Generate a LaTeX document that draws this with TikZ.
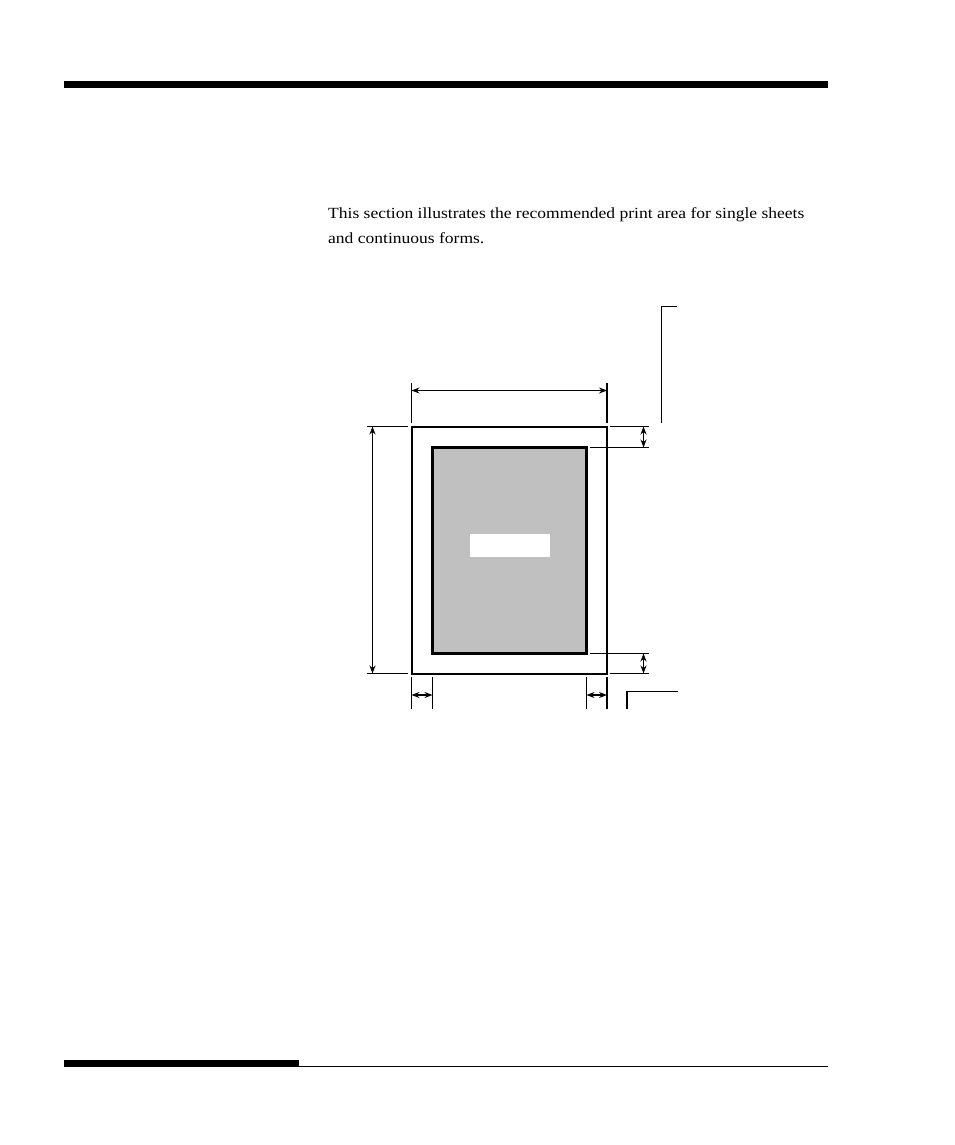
\documentclass[tikz,border=0pt]{standalone}
\usepackage{fontspec}
\setmainfont[FakeStretch=1.13]{Liberation Serif}
\usetikzlibrary{arrows.meta}
\begin{document}
\begin{tikzpicture}[x=1pt,y=-1pt,
  thin line/.style={line width=1.2pt},
  dim/.style={line width=1.2pt,{Stealth[length=8pt,width=6pt]}-{Stealth[length=8pt,width=6pt]}},
  bodytext/.style={anchor=base west,inner sep=0pt,font=\fontsize{15.5}{18}\selectfont}]
\useasboundingbox (0,0) rectangle (954,1145);
% header / footer bars
\fill (64,81) rectangle (828,88);
\fill (64,1060) rectangle (299,1067);
\draw[line width=1.2pt] (299,1066.4) -- (828,1066.4);
% text
\node[bodytext] (t1) at (328,218) {This section illustrates the recommended print area for single sheets};
\node[bodytext] (t2) at (328,243) {and continuous forms.};
% paper and print area
\coordinate (oTL) at (411.5,426.5);
\coordinate (oBR) at (607,673.5);
\coordinate (iTL) at (432.5,447.5);
\coordinate (iBR) at (586.5,653.5);
\draw[line width=2pt] (oTL) rectangle (oBR);
\draw[line width=2.4pt,fill={rgb,255:red,192;green,192;blue,192}] (iTL) rectangle (iBR);
\fill[white] (470,534) rectangle (550,557);
% top width dimension
\coordinate (w1a) at (411.5,383); \coordinate (w1b) at (411.5,423);
\coordinate (w2a) at (607,383); \coordinate (w2b) at (607,423);
\draw[thin line] (w1a) -- (w1b);
\draw[thin line] (w2a) -- (w2b);
\coordinate (wl) at (411.5,390.5); \coordinate (wr) at (607,390.5);
\draw[dim] (wl) -- (wr);
% left height dimension
\coordinate (h1a) at (367,426.5); \coordinate (h1b) at (408,426.5);
\coordinate (h2a) at (367,673.5); \coordinate (h2b) at (408,673.5);
\draw[thin line] (h1a) -- (h1b);
\draw[thin line] (h2a) -- (h2b);
\coordinate (ht) at (372.5,426.5); \coordinate (hb) at (372.5,673.5);
\draw[dim] (ht) -- (hb);
% right top margin
\coordinate (rt1a) at (610,426.5); \coordinate (rt1b) at (649,426.5);
\coordinate (rt2a) at (590,447.5); \coordinate (rt2b) at (649,447.5);
\draw[thin line] (rt1a) -- (rt1b);
\draw[thin line] (rt2a) -- (rt2b);
\coordinate (mt1) at (643.5,426.5); \coordinate (mt2) at (643.5,447.5);
\draw[dim] (mt1) -- (mt2);
% right bottom margin
\coordinate (rb1a) at (590,653.5); \coordinate (rb1b) at (649,653.5);
\coordinate (rb2a) at (610,673.5); \coordinate (rb2b) at (649,673.5);
\draw[thin line] (rb1a) -- (rb1b);
\draw[thin line] (rb2a) -- (rb2b);
\coordinate (mb1) at (643.5,653.5); \coordinate (mb2) at (643.5,673.5);
\draw[dim] (mb1) -- (mb2);
% bottom side margins
\foreach \x/\n in {411.5/a,432.5/b,586.5/c,607/d}{
  \coordinate (v\n1) at (\x,677); \coordinate (v\n2) at (\x,709);
  \draw[thin line] (v\n1) -- (v\n2);
}
\coordinate (sl1) at (411.5,695); \coordinate (sl2) at (432.5,695);
\coordinate (sr1) at (586.5,695); \coordinate (sr2) at (607,695);
\draw[dim] (sl1) -- (sl2);
\draw[dim] (sr1) -- (sr2);
% label brackets
\coordinate (b1a) at (677,306.5); \coordinate (b1b) at (661.5,306.5); \coordinate (b1c) at (661.5,423);
\draw[thin line] (b1a) -- (b1b) -- (b1c);
\coordinate (b2a) at (678,691.5); \coordinate (b2b) at (627,691.5); \coordinate (b2c) at (627,709);
\draw[thin line] (b2a) -- (b2b) -- (b2c);
\end{tikzpicture}
\end{document}
